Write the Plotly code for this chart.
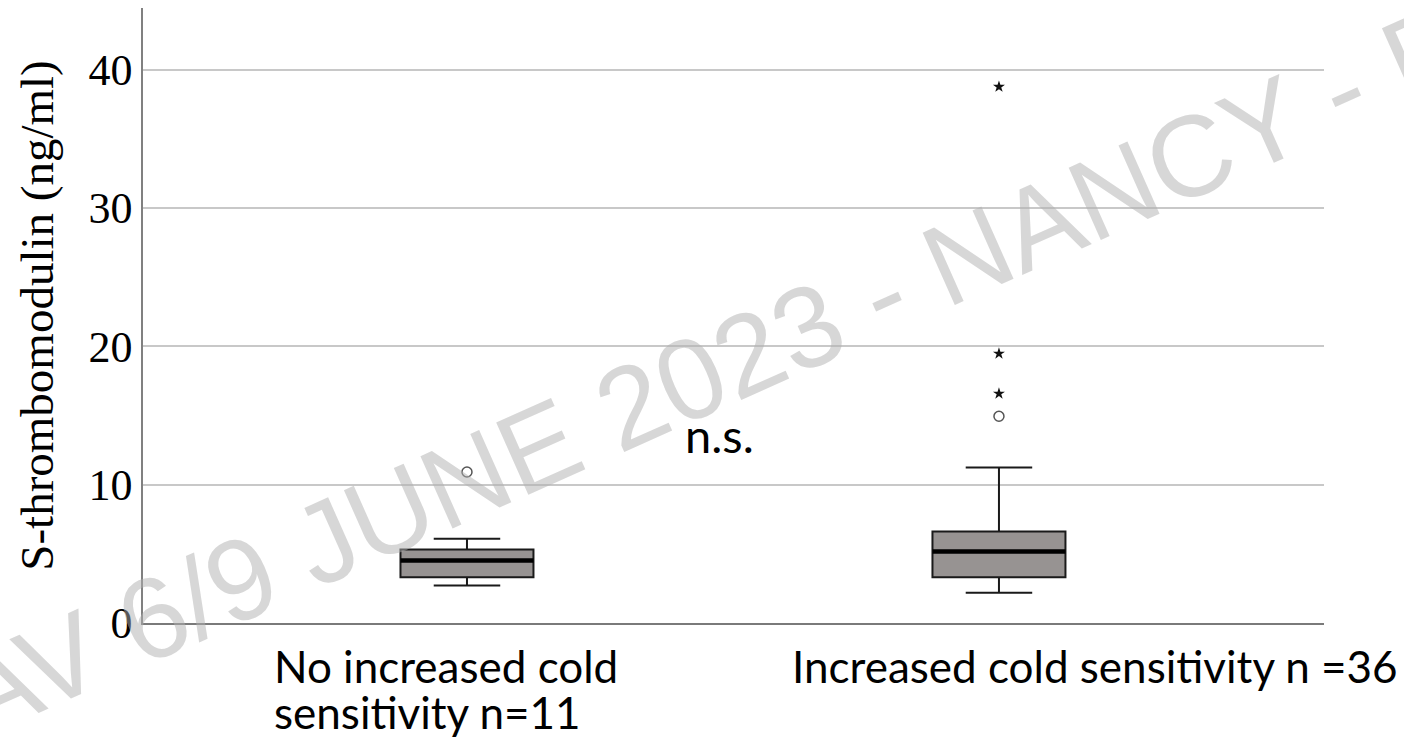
import plotly.graph_objects as go

# ---- data ----
groups = ["No increased cold sensitivity n=11", "Increased cold sensitivity n =36"]
label_lines = [["No increased cold", "sensitivity n=11"], ["Increased cold sensitivity n =36"]]
positions = [0, 1]
q1 = [3.31, 3.31]
median = [4.52, 5.17]
q3 = [5.32, 6.62]
lower_whisker = [2.71, 2.18]
upper_whisker = [6.09, 11.23]
outlier_circle_x = [0, 1]
outlier_circle_y = [10.91, 14.94]
outlier_star_x = [1, 1, 1]
outlier_star_y = [16.58, 19.47, 38.76]
y_ticks = [0, 10, 20, 30, 40]
y_title = "S-thrombomodulin (ng/ml)"
sig_text = "n.s."
watermark = "AV 6/9 JUNE 2023 - NANCY - F"

BOX_W = 0.25
W, H = 1404, 748
L, R, T, B = 143, 80, 8, 125

fig = go.Figure()
fig.add_trace(go.Box(
    x=positions, q1=q1, median=median, q3=q3,
    lowerfence=lower_whisker, upperfence=upper_whisker,
    width=BOX_W, whiskerwidth=0.5, boxpoints=False,
    fillcolor="#979392", line=dict(color="#1a1a1a", width=2),
    hoverinfo="skip", showlegend=False,
))
for p, m in zip(positions, median):
    fig.add_trace(go.Scatter(
        x=[p - BOX_W / 2, p + BOX_W / 2], y=[m, m], mode="lines",
        line=dict(color="#000000", width=4.5), showlegend=False, hoverinfo="skip",
    ))
fig.add_trace(go.Scatter(
    x=outlier_circle_x, y=outlier_circle_y, mode="markers",
    marker=dict(symbol="circle-open", size=10, color="#555555", line=dict(width=1.5)),
    showlegend=False,
))
fig.add_trace(go.Scatter(
    x=outlier_star_x, y=outlier_star_y, mode="markers",
    marker=dict(symbol="star", size=9, color="#111111"),
    showlegend=False,
))

plot_h = H - T - B
def py(pix):
    return (H - B - pix) / plot_h

label_font = dict(family="Lato", size=44, color="#000000")
annotations = []
annotations.append(dict(x=-0.367, xref="x", xanchor="left", y=py(666), yref="paper", yanchor="middle",
                        text=label_lines[0][0], showarrow=False, font=label_font))
annotations.append(dict(x=-0.367, xref="x", xanchor="left", y=py(712), yref="paper", yanchor="middle",
                        text=label_lines[0][1], showarrow=False, font=label_font))
annotations.append(dict(x=0.607, xref="x", xanchor="left", y=py(666), yref="paper", yanchor="middle",
                        text=label_lines[1][0], showarrow=False, font=label_font))
annotations.append(dict(x=0.406, xref="x", xanchor="left", y=py(435), yref="paper", yanchor="middle",
                        text=sig_text, showarrow=False,
                        font=dict(family="Lato", size=47, color="#000000")))
# watermark
annotations.append(dict(x=(708 - L) / (W - L - R), xref="paper", y=py(371), yref="paper",
                        xanchor="center", yanchor="middle", text=watermark, showarrow=False,
                        textangle=-24,
                        font=dict(family="Liberation Sans", size=115, color="rgba(175,175,175,0.5)")))

fig.update_layout(
    width=W, height=H,
    margin=dict(l=L, r=R, t=T, b=B, pad=0),
    paper_bgcolor="white", plot_bgcolor="white",
    showlegend=False,
    annotations=annotations,
    xaxis=dict(range=[-0.609, 1.611], showticklabels=False, showgrid=False, zeroline=False,
               showline=True, linecolor="#7a7a7a", linewidth=1.8, ticks=""),
    yaxis=dict(range=[0, 44.45], tickvals=y_ticks, ticktext=[str(v) for v in y_ticks],
               showgrid=True, gridcolor="#c8c8c8", gridwidth=1.5, zeroline=False,
               showline=True, linecolor="#808080", linewidth=1.5, ticks="",
               ticklabelstandoff=0,
               tickfont=dict(family="Liberation Serif", size=44, color="#000000"),
               title=dict(text=y_title, standoff=20,
                          font=dict(family="Liberation Serif", size=47, color="#000000"))),
)

fig.write_html("out.html")
